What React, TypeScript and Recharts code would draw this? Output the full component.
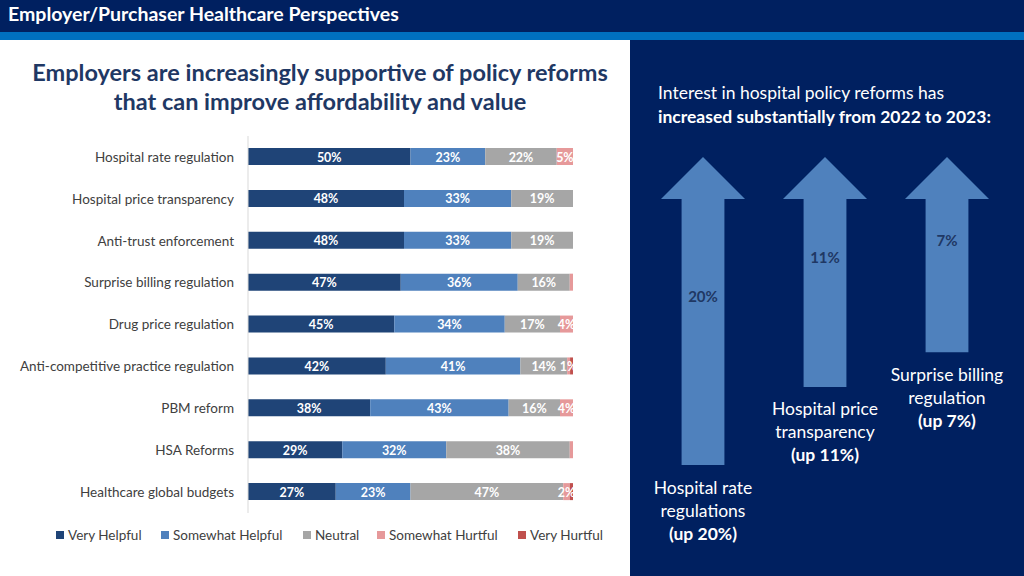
import React from "react";
import { BarChart, Bar, XAxis, YAxis, LabelList, Legend } from "recharts";

const categories = [
  "Hospital rate regulation",
  "Hospital price transparency",
  "Anti-trust enforcement",
  "Surprise billing regulation",
  "Drug price regulation",
  "Anti-competitive practice regulation",
  "PBM reform",
  "HSA Reforms",
  "Healthcare global budgets",
];
const veryHelpful = [50, 48, 48, 47, 45, 42.4, 37.6, 29, 27];
const somewhatHelpful = [23, 33, 33, 36, 34, 41.4, 42.6, 32, 23];
const neutral = [22, 19, 19, 16, 17, 14.4, 15.8, 38, 47];
const somewhatHurtful = [5, 0, 0, 1, 4, 0.9, 4, 1, 2];
const veryHurtful = [0, 0, 0, 0, 0, 0.9, 0, 0, 1];
const somewhatHurtfulLabelled = [true, false, false, false, true, true, true, false, true];

const seriesNames = ["Very Helpful", "Somewhat Helpful", "Neutral", "Somewhat Hurtful", "Very Hurtful"];
const seriesColors = ["#1F4477", "#4F81BD", "#A6A6A6", "#E6999A", "#C0504D"];

const arrowTopics = ["Hospital rate regulations", "Hospital price transparency", "Surprise billing regulation"];
const arrowCaptionLines = [
  ["Hospital rate", "regulations"],
  ["Hospital price", "transparency"],
  ["Surprise billing", "regulation"],
];
const arrowIncrease = [20, 11, 7];
const ARROW_BASE = -15.5;

const FONT = "Lato, 'Open Sans', sans-serif";

const rows = categories.map((c, i) => ({
  category: c,
  vh: veryHelpful[i],
  sh: somewhatHelpful[i],
  n: neutral[i],
  shu: somewhatHurtful[i],
  vhu: veryHurtful[i],
  shuLabelled: somewhatHurtfulLabelled[i],
}));

const arrowRows = arrowTopics.map((t, i) => ({
  topic: t,
  lines: arrowCaptionLines[i],
  value: arrowIncrease[i],
}));

const pct = (v: number) => (Math.round(v) >= 2 ? `${Math.round(v)}%` : null);

const renderLabel = (props: any) => {
  const { x, y, width, height, value } = props;
  if (value === null || value === undefined || value === "") return null;
  return (
    <text
      x={Number(x) + Number(width) / 2}
      y={Number(y) + Number(height) / 2 + 0.5}
      textAnchor="middle"
      dominantBaseline="central"
      fill="#FFFFFF"
      fontSize={12.5}
      fontWeight={700}
      fontFamily={FONT}
    >
      {value}
    </text>
  );
};

const legendWidths = [105, 142, 74, 141, 100];

const renderLegend = () => (
  <div style={{ display: "flex", alignItems: "center", fontFamily: FONT, fontSize: 13.5, color: "#404040" }}>
    {seriesNames.map((n, i) => (
      <div key={n} style={{ display: "flex", alignItems: "center", width: legendWidths[i] }}>
        <span style={{ display: "inline-block", width: 8, height: 8, background: seriesColors[i], marginRight: 4 }} />
        <span style={{ whiteSpace: "nowrap" }}>{n}</span>
      </div>
    ))}
  </div>
);

const ArrowShape = (props: any) => {
  const { x, y, width, height, payload } = props;
  const top = Math.min(y, y + height);
  const bottom = Math.max(y, y + height);
  const cx = x + width / 2;
  const headH = 42;
  const shaft = width * 0.51;
  const pts = [
    [cx, top],
    [x + width, top + headH],
    [cx + shaft / 2, top + headH],
    [cx + shaft / 2, bottom],
    [cx - shaft / 2, bottom],
    [cx - shaft / 2, top + headH],
    [x, top + headH],
  ]
    .map((p) => p.join(","))
    .join(" ");
  const lines: string[] = payload.lines;
  return (
    <g>
      <polygon points={pts} fill="#4F81BD" />
      <text
        x={cx}
        y={(top + bottom) / 2 - 15}
        textAnchor="middle"
        dominantBaseline="central"
        fill="#1F3864"
        fontSize={15}
        fontWeight={700}
        fontFamily={FONT}
      >
        {payload.value}%
      </text>
      {lines.map((l, i) => (
        <text
          key={i}
          x={cx}
          y={bottom + 22 + i * 23}
          textAnchor="middle"
          dominantBaseline="central"
          fill="#FFFFFF"
          fontSize={17.5}
          fontFamily={FONT}
        >
          {l}
        </text>
      ))}
      <text
        x={cx}
        y={bottom + 22 + lines.length * 23}
        textAnchor="middle"
        dominantBaseline="central"
        fill="#FFFFFF"
        fontSize={17.5}
        fontWeight={700}
        fontFamily={FONT}
      >
        (up {payload.value}%)
      </text>
    </g>
  );
};

export default function App() {
  return (
    <div
      style={{
        position: "absolute",
        left: 0,
        top: 0,
        width: 1024,
        height: 576,
        background: "#FFFFFF",
        overflow: "hidden",
        fontFamily: FONT,
      }}
    >
      <div style={{ position: "absolute", left: 0, top: 0, width: 1024, height: 32, background: "#002060" }} />
      <div style={{ position: "absolute", left: 0, top: 32, width: 1024, height: 8, background: "#0070C0" }} />
      <div
        style={{
          position: "absolute",
          left: 8,
          top: 2,
          color: "#FFFFFF",
          fontSize: 19.5,
          fontWeight: 700,
          lineHeight: "24px",
          whiteSpace: "nowrap",
        }}
      >
        Employer/Purchaser Healthcare Perspectives
      </div>
      <div style={{ position: "absolute", left: 630, top: 40, width: 394, height: 536, background: "#002060" }} />

      <div
        style={{
          position: "absolute",
          left: 0,
          top: 58,
          width: 640,
          textAlign: "center",
          color: "#1F3864",
          fontSize: 23.5,
          fontWeight: 700,
          lineHeight: "29px",
          whiteSpace: "nowrap",
        }}
      >
        Employers are increasingly supportive of policy reforms
        <br />
        that can improve affordability and value
      </div>

      <div
        style={{
          position: "absolute",
          left: 658,
          top: 81,
          color: "#FFFFFF",
          fontSize: 17.5,
          lineHeight: "24px",
          whiteSpace: "nowrap",
        }}
      >
        Interest in hospital policy reforms has
        <br />
        <b>increased substantially from 2022 to 2023:</b>
      </div>

      <div style={{ position: "absolute", left: 0, top: 0 }}>
        <BarChart
          width={630}
          height={576}
          data={rows}
          layout="vertical"
          margin={{ top: 136, right: 57, bottom: 63, left: 0 }}
          barCategoryGap={0}
        >
          <XAxis type="number" domain={[0, 100]} hide />
          <YAxis
            type="category"
            dataKey="category"
            width={248}
            tickLine={false}
            tickSize={6}
            tickMargin={8}
            axisLine={{ stroke: "#D9D9D9" }}
            tick={{ fontSize: 13.5, fill: "#404040", fontFamily: FONT }}
            interval={0}
          />
          <Legend
            verticalAlign="middle"
            align="center"
            content={renderLegend}
            wrapperStyle={{ top: 527, left: 56, width: "auto", height: "auto" }}
          />
          <Bar dataKey="vh" stackId="a" fill={seriesColors[0]} barSize={17} isAnimationActive={false} name={seriesNames[0]}>
            <LabelList dataKey={(d: any) => pct(d.vh)} content={renderLabel} />
          </Bar>
          <Bar dataKey="sh" stackId="a" fill={seriesColors[1]} barSize={17} isAnimationActive={false} name={seriesNames[1]}>
            <LabelList dataKey={(d: any) => pct(d.sh)} content={renderLabel} />
          </Bar>
          <Bar dataKey="n" stackId="a" fill={seriesColors[2]} barSize={17} isAnimationActive={false} name={seriesNames[2]}>
            <LabelList dataKey={(d: any) => pct(d.n)} content={renderLabel} />
          </Bar>
          <Bar dataKey="shu" stackId="a" fill={seriesColors[3]} barSize={17} isAnimationActive={false} name={seriesNames[3]}>
            <LabelList
              dataKey={(d: any) => (d.shuLabelled ? `${Math.round(d.shu)}%` : null)}
              content={renderLabel}
            />
          </Bar>
          <Bar dataKey="vhu" stackId="a" fill={seriesColors[4]} barSize={17} isAnimationActive={false} name={seriesNames[4]} />
        </BarChart>
      </div>

      <div style={{ position: "absolute", left: 630, top: 40 }}>
        <BarChart
          width={394}
          height={536}
          data={arrowRows}
          margin={{ top: 117, right: 16, bottom: 111, left: 12 }}
          barCategoryGap={0}
        >
          <XAxis type="category" dataKey="topic" hide />
          <YAxis type="number" domain={[ARROW_BASE, 20]} reversed hide />
          <Bar
            dataKey={(d: any) => [ARROW_BASE, d.value]}
            barSize={84}
            isAnimationActive={false}
            shape={ArrowShape}
          />
        </BarChart>
      </div>
    </div>
  );
}
